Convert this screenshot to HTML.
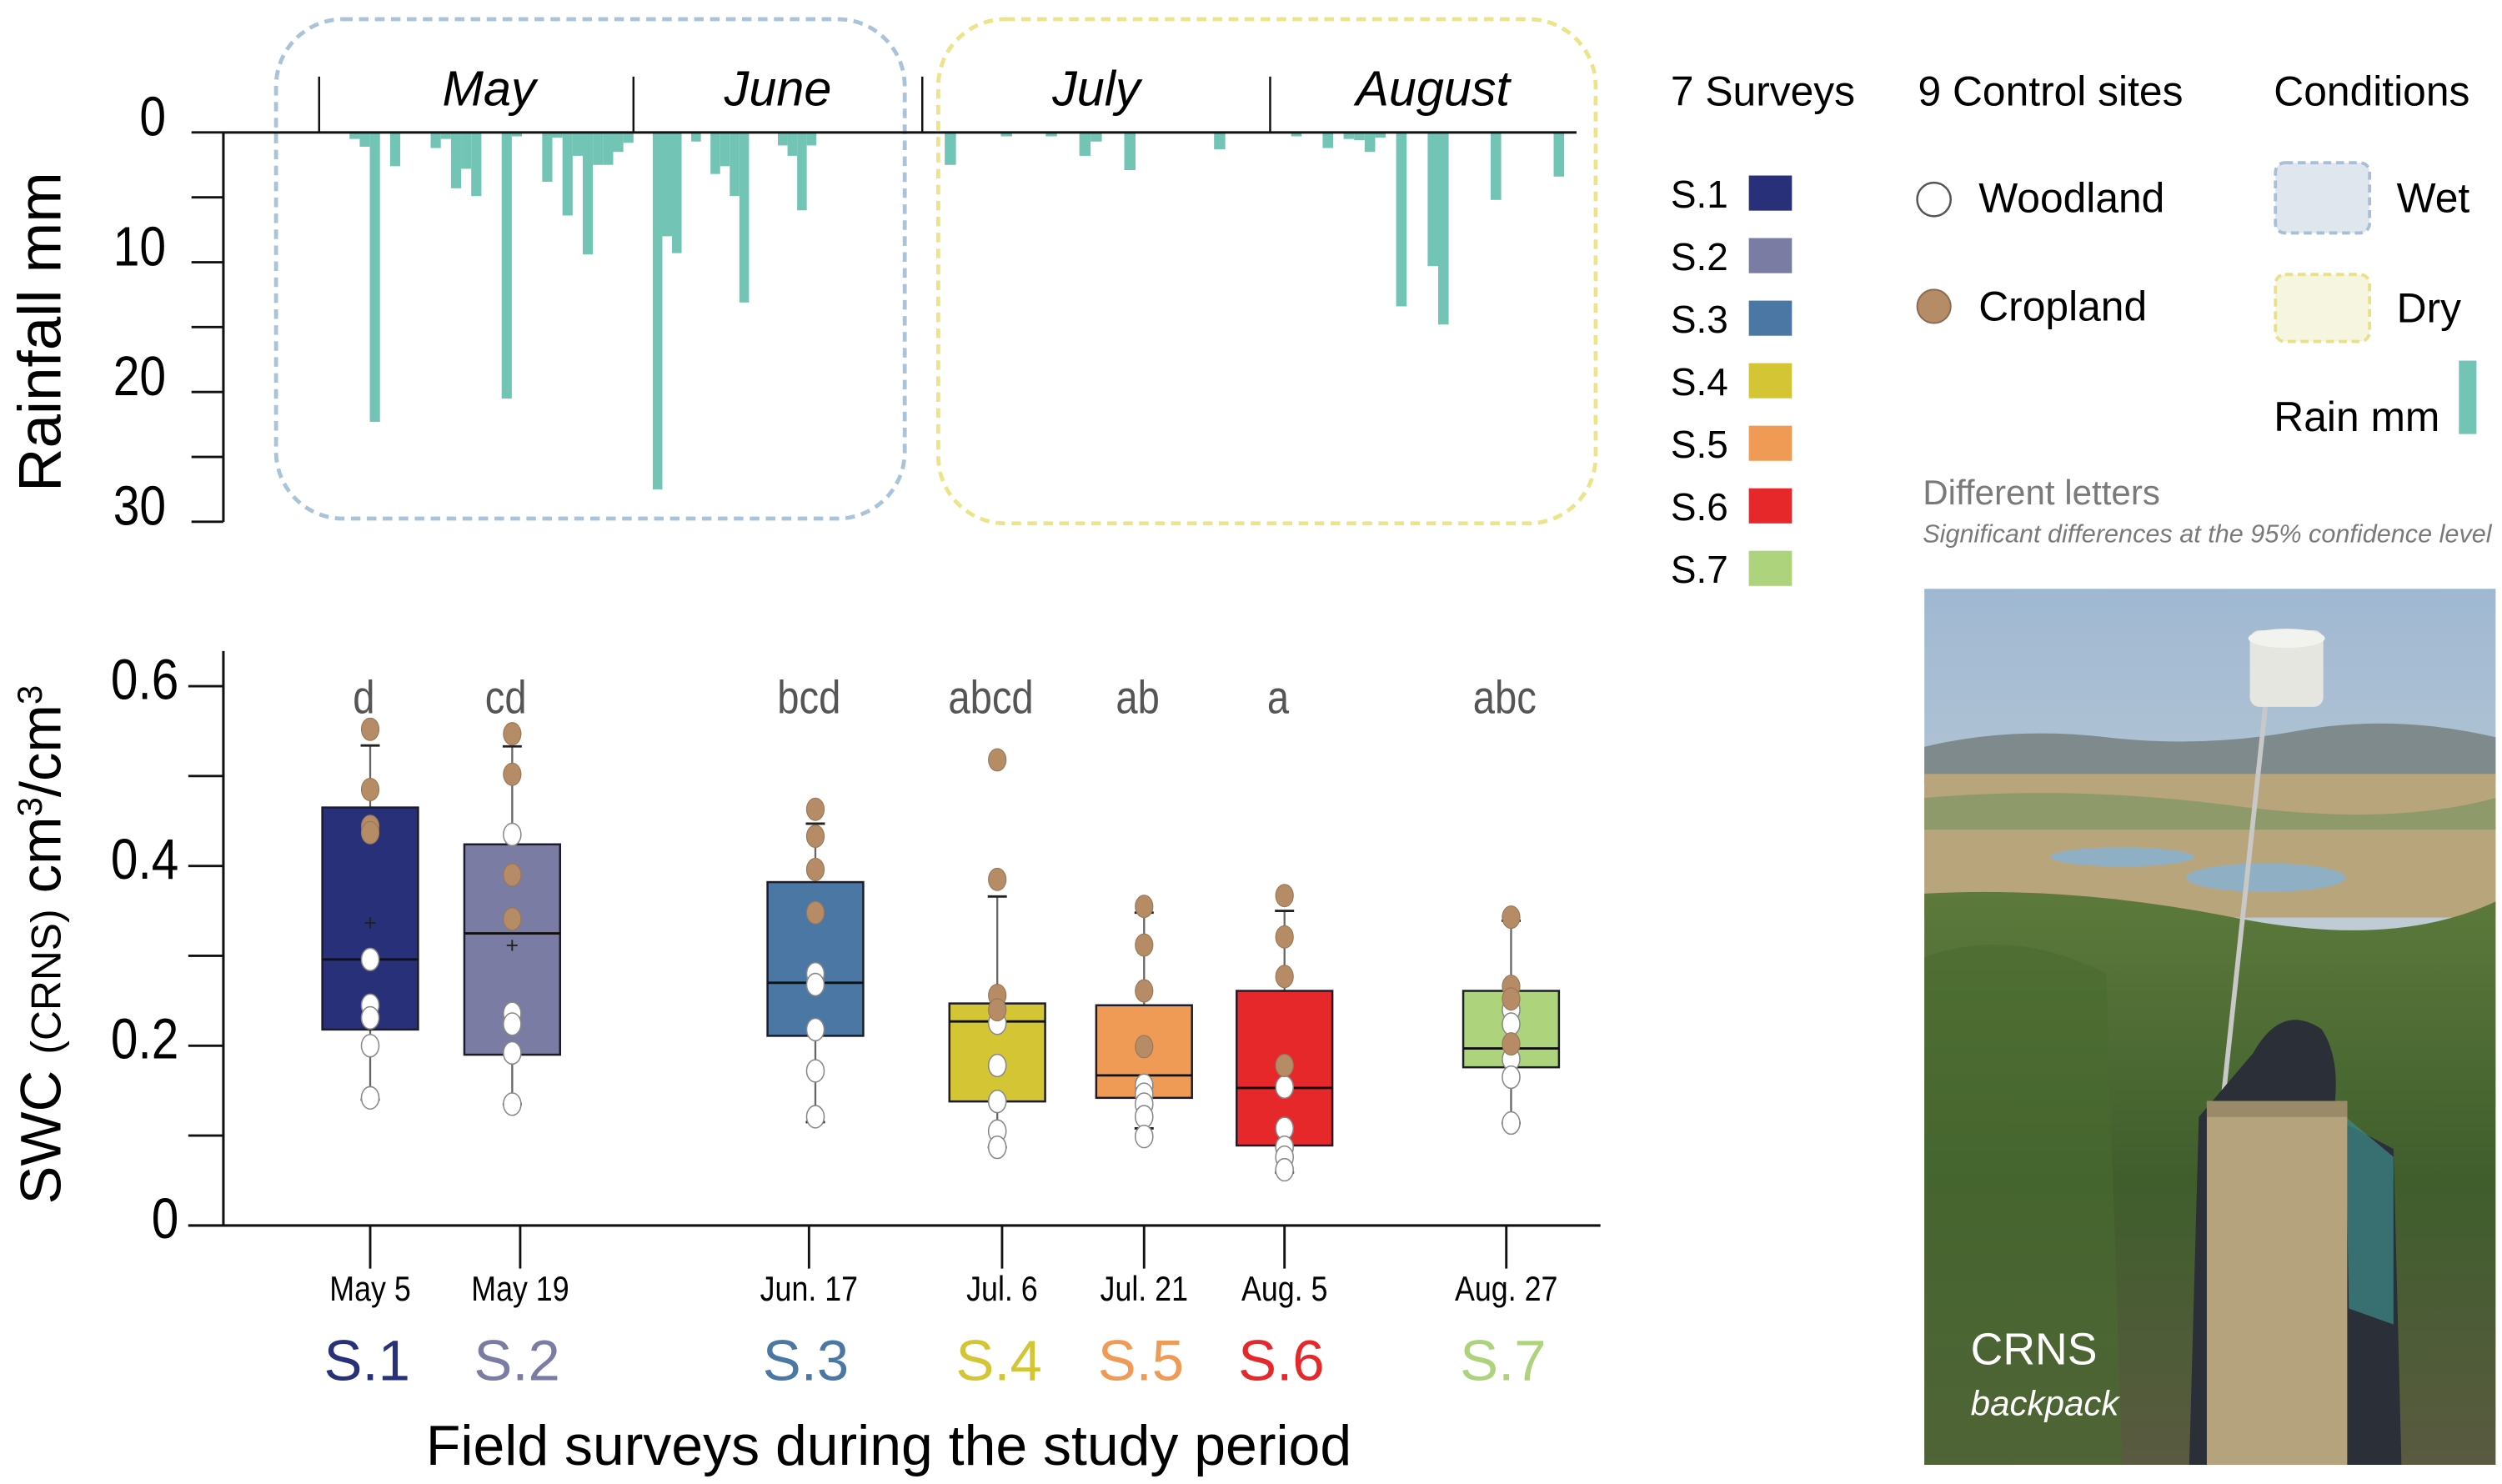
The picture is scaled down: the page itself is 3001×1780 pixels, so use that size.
<!DOCTYPE html>
<html><head><meta charset="utf-8"><style>
html,body{margin:0;padding:0;background:#fff}
svg{display:block}
text{font-family:"Liberation Sans",sans-serif}
</style></head><body>
<svg id="fig" width="3001" height="1780" viewBox="0 0 1568 930" preserveAspectRatio="none" xmlns="http://www.w3.org/2000/svg">
<defs>
<linearGradient id="sky" x1="0" y1="0" x2="0" y2="1"><stop offset="0" stop-color="#9fb8d2"/><stop offset="0.7" stop-color="#d9dcd8"/><stop offset="1" stop-color="#efe2c8"/></linearGradient>
<linearGradient id="veg" x1="0" y1="0" x2="0" y2="1"><stop offset="0" stop-color="#5d7a3c"/><stop offset="0.5" stop-color="#3f5e2c"/><stop offset="1" stop-color="#5a5a40"/></linearGradient>
</defs>
<g id="rain">
<rect x="173" y="12" width="394" height="313" rx="42" fill="none" stroke="#a9c3da" stroke-width="2.5" stroke-dasharray="6,4"/>
<rect x="588" y="12" width="412" height="316" rx="42" fill="none" stroke="#ede48a" stroke-width="2.5" stroke-dasharray="6,4"/>
<text transform="translate(38,208) rotate(-90)" text-anchor="middle" font-size="38">Rainfall  mm</text>
</g>
<g id="box">
<text transform="translate(38,592) rotate(-90)" text-anchor="middle" font-size="36">SWC <tspan font-size="26">(CRNS)</tspan> cm<tspan font-size="22" dy="-12">3</tspan><tspan dy="12">/cm</tspan><tspan font-size="22" dy="-12">3</tspan></text>
<text x="557" y="918" text-anchor="middle" font-size="35.5">Field surveys during the study period</text>
</g>
<g font-size="26">
<text x="1047" y="66">7 Surveys</text>
<text x="1202" y="66">9 Control sites</text>
<text x="1425" y="66">Conditions</text>
<circle cx="1212" cy="125" r="10.5" fill="#fff" stroke="#555" stroke-width="1.3"/>
<text x="1240" y="133">Woodland</text>
<circle cx="1212" cy="192" r="10.5" fill="#b58c66" stroke="#8a6a4c" stroke-width="1"/>
<text x="1240" y="201">Cropland</text>
<rect x="1426" y="102" width="59" height="44" rx="6" fill="#dfe6ee" stroke="#a9bfd6" stroke-width="2" stroke-dasharray="5,3"/>
<text x="1502" y="133">Wet</text>
<rect x="1426" y="172" width="59" height="42" rx="6" fill="#f6f5df" stroke="#e9e18a" stroke-width="2" stroke-dasharray="5,3"/>
<text x="1502" y="202">Dry</text>
<text x="1425" y="270">Rain mm</text>
<rect x="1541" y="226" width="11" height="46" fill="#72c4b5"/>
<text x="1205" y="316" font-size="22" fill="#7a7a7a">Different letters</text>
<text x="1205" y="340" font-size="16" font-style="italic" fill="#7a7a7a">Significant differences at the 95% confidence level</text>
<g id="surveyLegend"></g>
</g>
<g>
<rect x="1206" y="369" width="358" height="549" fill="url(#sky)"/>
<path d="M1206 468 Q1260 455 1320 462 T1440 458 T1564 462 L1564 490 L1206 490Z" fill="#7e8a8c"/>
<rect x="1206" y="485" width="358" height="90" fill="#b9a57c"/>
<path d="M1206 500 Q1300 492 1400 505 T1564 500 L1564 520 L1206 520Z" fill="#8e9a6a"/>
<ellipse cx="1330" cy="537" rx="45" ry="6" fill="#8fb0c4"/>
<ellipse cx="1420" cy="550" rx="50" ry="9" fill="#8fb0c4"/>
<path d="M1206 560 Q1300 555 1400 575 T1564 565 L1564 918 L1206 918Z" fill="url(#veg)"/>
<path d="M1206 600 Q1260 580 1320 610 L1330 918 L1206 918Z" fill="#4a6a30" opacity="0.6"/>
<line x1="1420" y1="440" x2="1392" y2="700" stroke="#c8c8c8" stroke-width="3"/>
<rect x="1410" y="395" width="46" height="48" rx="6" fill="#e6e6e0"/>
<ellipse cx="1433" cy="400" rx="24" ry="6" fill="#f2f2ee"/>
<path d="M1412 660 Q1430 628 1455 645 Q1468 665 1462 700 L1500 720 L1505 918 L1372 918 L1378 700Z" fill="#2a2f38"/>
<path d="M1470 700 L1500 725 L1500 830 L1472 820Z" fill="#3f8a8a" opacity="0.7"/>
<rect x="1383" y="690" width="88" height="228" fill="#b5a37d"/>
<rect x="1383" y="690" width="88" height="10" fill="#9a8a68"/>
<text x="1235" y="855" font-size="28" fill="#fff">CRNS</text>
<text x="1235" y="887" font-size="22" font-style="italic" fill="#fff">backpack</text>
</g>
</svg>
<script>
const rainDays = [3,4,5,7,11,12,13,14,15,18,19,22,23,24,25,26,27,28,29,30,33,34,35,37,39,40,41,42,46,47,48,49,63,68,72,75,76,79,87,94,97,99,100,101,102,104,107,108,113,119];
const rainMm   = [0.5,1.1,22.3,2.6,1.2,0.5,4.3,2.8,4.9,20.5,0.3,3.8,0.4,6.4,1.8,9.4,2.5,2.5,1.5,0.8,27.5,8.0,9.3,0.7,3.2,2.6,4.9,13.1,1.0,1.8,6.0,1.0,2.5,0.3,0.3,1.8,0.7,2.9,1.3,0.3,1.2,0.5,0.6,1.5,0.4,13.4,10.3,14.8,5.2,3.4];
const monthNames = ["May","June","July","August"];
const monthStartDays = [0,31,61,92,123];
const rainTicks = [0,10,20,30];
const surveys = ["S.1","S.2","S.3","S.4","S.5","S.6","S.7"];
const surveyDates = ["May 5","May 19","Jun. 17","Jul. 6","Jul. 21","Aug. 5","Aug. 27"];
const surveyLetters = ["d","cd","bcd","abcd","ab","a","abc"];
const surveyColors = ["#283079","#7a7ca3","#4a77a3","#d4c535","#ef9a55","#e6282a","#add37c"];
const q1 = [0.218,0.19,0.211,0.138,0.142,0.089,0.176];
const med = [0.296,0.325,0.27,0.227,0.167,0.153,0.197];
const q3 = [0.465,0.424,0.382,0.247,0.245,0.261,0.261];
const whiskLo = [0.14,0.135,0.115,0.087,0.108,0.059,0.114];
const whiskHi = [0.534,0.533,0.447,0.366,0.348,0.35,0.339];
const means = [0.337,0.312,0.286,0.235,0.2,0.17,0.218];
const cropland = [[0.552,0.485,0.444,0.437],[0.547,0.502,0.39,0.341],[0.463,0.433,0.396,0.348],[0.518,0.385,0.256,0.24],[0.355,0.312,0.261,0.199],[0.367,0.321,0.277,0.178],[0.343,0.266,0.252,0.202]];
const woodland = [[0.296,0.245,0.231,0.2,0.142],[0.435,0.236,0.224,0.192,0.135],[0.28,0.268,0.218,0.172,0.121],[0.225,0.178,0.138,0.105,0.087],[0.156,0.146,0.135,0.121,0.099],[0.154,0.108,0.087,0.076,0.062],[0.24,0.224,0.185,0.165,0.114]];
const swcTicks = [0,0.2,0.4,0.6];
const swcMinorTicks = [0.1,0.3,0.5];

const NS="http://www.w3.org/2000/svg";
function mk(parent,tag,attrs,txt){const e=document.createElementNS(NS,tag);for(const k in attrs)e.setAttribute(k,attrs[k]);if(txt!==undefined)e.textContent=txt;parent.appendChild(e);return e;}

const monthX=[200,397,578,796,1000];
function xDay(d){for(let i=0;i<4;i++){if(d<=monthStartDays[i+1]||i===3){const t=(d-monthStartDays[i])/(monthStartDays[i+1]-monthStartDays[i]);return monthX[i]+t*(monthX[i+1]-monthX[i]);}}}
function yRain(v){return 83+v*(327-83)/30;}
const surveyX=[232,321,511,625,717,805,947];
const tickX=[232,326,507,628,717,805,944];
function ySwc(v){return 768-v*(768-430)/0.6;}

const rain=document.getElementById('rain');
rainDays.forEach((d,i)=>{
  const x0=xDay(d), x1=xDay(d+1);
  const b=mk(rain,'rect',{x:x0,y:yRain(0),width:Math.max(1,x1-x0),height:yRain(rainMm[i])-yRain(0),fill:'#72c4b5'});
  
  
});
let ax=mk(rain,'line',{x1:140,y1:83,x2:988,y2:83,stroke:'#111','stroke-width':1.6});


ax=mk(rain,'line',{x1:140,y1:83,x2:140,y2:327,stroke:'#111','stroke-width':1.6});


for(let v=0;v<=30;v+=5){
  const t=mk(rain,'line',{x1:120,y1:yRain(v),x2:140,y2:yRain(v),stroke:'#111','stroke-width':1.5});
  
  
}
rainTicks.forEach(v=>{
  const t=mk(rain,'text',{x:104/0.85,y:yRain(v)+2,'text-anchor':'end','font-size':35,transform:'scale(0.85,1)'},String(v));
  
  
});
monthStartDays.slice(0,4).forEach((d,i)=>{
  const x=xDay(d);
  const t=mk(rain,'line',{x1:x,y1:48,x2:x,y2:83,stroke:'#111','stroke-width':1.3});
  
  
  const cx=(xDay(d)+xDay(monthStartDays[i+1]))/2+(i===0?8:0);
  const l=mk(rain,'text',{x:cx,y:66,'text-anchor':'middle','font-size':31,'font-style':'italic'},monthNames[i]);
  
  
});

const box=document.getElementById('box');
ax=mk(box,'line',{x1:140,y1:408,x2:140,y2:768,stroke:'#111','stroke-width':1.6});


ax=mk(box,'line',{x1:118,y1:768,x2:1003,y2:768,stroke:'#111','stroke-width':1.6});


swcTicks.concat(swcMinorTicks).forEach(v=>{
  const t=mk(box,'line',{x1:118,y1:ySwc(v),x2:140,y2:ySwc(v),stroke:'#111','stroke-width':1.5});
  
  
});
swcTicks.forEach(v=>{
  const t=mk(box,'text',{x:112/0.85,y:ySwc(v)+8,'text-anchor':'end','font-size':36,transform:'scale(0.85,1)'},v===0?'0':v.toFixed(1));
  
  
});
surveys.forEach((s,i)=>{
  const cx=surveyX[i], w=30;
  const g=mk(box,'g',{});
  
  
  mk(g,'line',{x1:cx,y1:ySwc(whiskHi[i]),x2:cx,y2:ySwc(whiskLo[i]),stroke:'#666','stroke-width':1.2});
  mk(g,'line',{x1:cx-6,y1:ySwc(whiskHi[i]),x2:cx+6,y2:ySwc(whiskHi[i]),stroke:'#222','stroke-width':1.5});
  mk(g,'line',{x1:cx-6,y1:ySwc(whiskLo[i]),x2:cx+6,y2:ySwc(whiskLo[i]),stroke:'#222','stroke-width':1.5});
  mk(g,'rect',{x:cx-w,y:ySwc(q3[i]),width:2*w,height:ySwc(q1[i])-ySwc(q3[i]),fill:surveyColors[i],stroke:'#1c1c2a','stroke-width':1.3});
  mk(g,'line',{x1:cx-w,y1:ySwc(med[i]),x2:cx+w,y2:ySwc(med[i]),stroke:'#111','stroke-width':1.5});
  mk(g,'text',{x:cx,y:ySwc(means[i])+5,'text-anchor':'middle','font-size':14,fill:'#222'},'+');
  woodland[i].forEach(v=>{
    const p=mk(g,'ellipse',{cx:cx,cy:ySwc(v),rx:5.5,ry:7,fill:'#fff',stroke:'#888','stroke-width':0.8});
    
    
  });
  cropland[i].forEach(v=>{
    const p=mk(g,'ellipse',{cx:cx,cy:ySwc(v),rx:5.5,ry:7,fill:'#b58c66',stroke:'#9a7758','stroke-width':0.6});
    
    
  });
  const lt=mk(box,'text',{x:(surveyX[i]-4)/0.85,y:447,'text-anchor':'middle','font-size':29,fill:'#555',transform:'scale(0.85,1)'},surveyLetters[i]);
  
  
  const tk=mk(box,'line',{x1:tickX[i],y1:768,x2:tickX[i],y2:795,stroke:'#111','stroke-width':1.5});
  
  
  const dl=mk(box,'text',{x:tickX[i]/0.85,y:815,'text-anchor':'middle','font-size':22,transform:'scale(0.85,1)'},surveyDates[i]);
  
  
  const sl=mk(box,'text',{x:tickX[i]-2,y:865,'text-anchor':'middle','font-size':36,fill:surveyColors[i]},s);
  
  
});
const sg=document.getElementById('surveyLegend');
surveys.forEach((s,i)=>{
  const y=121+39.2*i;
  const t=mk(sg,'text',{x:1047,y:y+9,'font-size':24},s);
  
  
  const r=mk(sg,'rect',{x:1096,y:y-11,width:27,height:22,fill:surveyColors[i]});
  
  
});
</script>
</body></html>
